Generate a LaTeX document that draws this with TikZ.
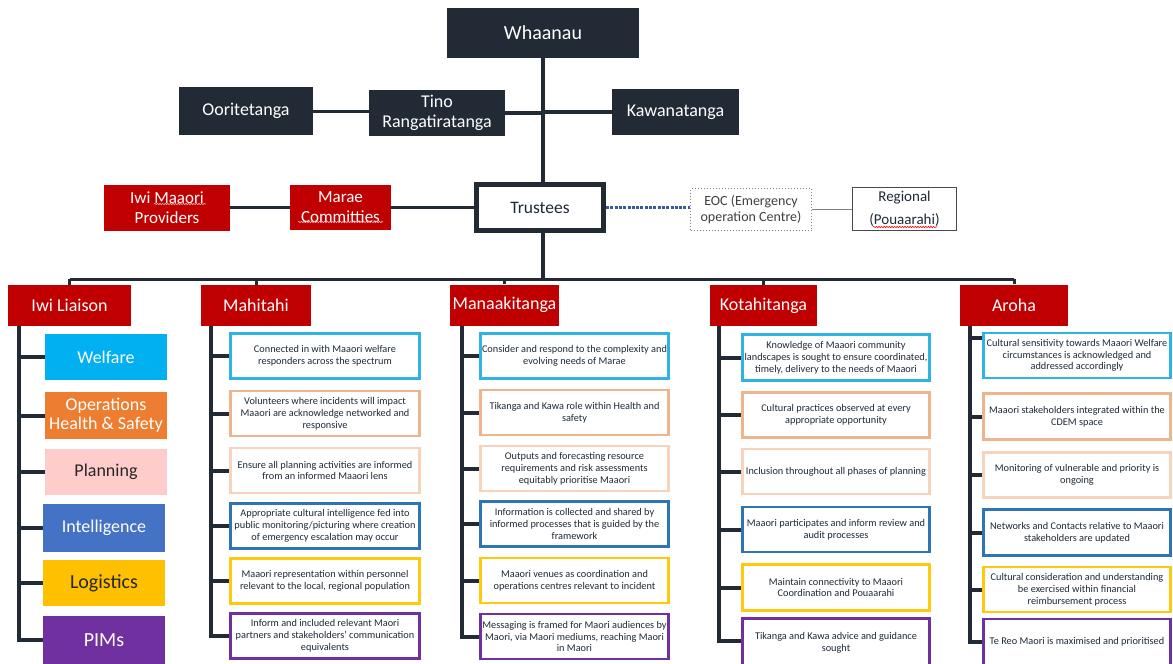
\documentclass[tikz,border=0pt]{standalone}
\usepackage{fontspec}
\setmainfont{Carlito}
\usetikzlibrary{decorations.pathmorphing,calc}
\definecolor{navy}{HTML}{222A35}
\definecolor{redc}{HTML}{C00000}
\definecolor{txt}{HTML}{1E2A38}
\definecolor{cb}{HTML}{2EB4E4}
\definecolor{co}{HTML}{F0B48C}
\definecolor{cp}{HTML}{F7D3BB}
\definecolor{cbl}{HTML}{2E75B6}
\definecolor{cy}{HTML}{FFC90E}
\definecolor{cpu}{HTML}{7030A0}
\definecolor{fwel}{HTML}{00B0F0}
\definecolor{fops}{HTML}{ED7D31}
\definecolor{fpla}{HTML}{FFCCCC}
\definecolor{fint}{HTML}{4472C4}
\definecolor{flog}{HTML}{FFC000}
\definecolor{fpim}{HTML}{7030A0}
\definecolor{dotc}{HTML}{3A5A9A}
\definecolor{regb}{HTML}{4A4A4A}
\pgfdeclarelayer{background}
\pgfsetlayers{background,main}
\tikzset{
  dk/.style={fill=navy, draw=none, text=white, inner sep=0pt, align=center},
  rd/.style={fill=redc, draw=none, text=white, inner sep=0pt, align=center},
  conn/.style={draw=navy, line width=4pt},
  bconn/.style={draw=navy, line width=3pt},
  tbox/.style={draw=#1, line width=2.8pt, fill=white, text=txt, minimum height=45pt,
    inner sep=0pt, align=center, font=\fontsize{10.3}{11.8}\selectfont},
  lbox/.style={fill=#1, draw=none, minimum width=122pt, minimum height=46pt, inner sep=0pt,
    align=center, font=\fontsize{18}{19}\selectfont},
  hdr/.style={rd, minimum height=41pt, font=\fontsize{18}{20}\selectfont},
  squig/.style={decorate, decoration={snake, amplitude=0.7pt, segment length=2.6pt}, line width=0.6pt},
}
\begin{document}
\begin{tikzpicture}[x=1pt,y=-1pt]
\useasboundingbox (0,0) rectangle (1173,664);
% top level
\node[dk, minimum width=192pt, minimum height=50pt, font=\fontsize{20}{22}\selectfont] (wh) at (543,33) {Whaanau};
\node[dk, minimum width=134pt, minimum height=48pt, font=\fontsize{18}{20}\selectfont] (oor) at (246,111) {Ooritetanga};
\node[dk, minimum width=136pt, minimum height=46pt, font=\fontsize{18}{20}\selectfont] (tino) at (437,113) {Tino\\Rangatiratanga};
\node[dk, minimum width=127pt, minimum height=46pt, font=\fontsize{18}{20}\selectfont] (kaw) at (675.5,112) {Kawanatanga};
\node[draw=navy, line width=5pt, fill=white, text=txt, minimum width=127pt, minimum height=46pt, inner sep=0pt, font=\fontsize{17.5}{20}\selectfont] (tru) at (540,207.5) {Trustees};
\node[rd, minimum width=101pt, minimum height=45pt, font=\fontsize{17}{20}\selectfont] (mar) at (340.5,207.5) {Marae\\Committies};
\node[rd, minimum width=126pt, minimum height=46pt, font=\fontsize{17}{20}\selectfont] (iwi) at (167,208) {Iwi Maaori\\Providers};
\node[draw=gray, dotted, line width=1pt, fill=white, text=black!75, minimum width=121pt, minimum height=42pt, inner sep=0pt, align=center, font=\fontsize{14}{15.7}\selectfont] (eoc) at (751,209.5) {EOC (Emergency\\operation Centre)};
\node[draw=regb, line width=1.3pt, fill=white, text=txt, minimum width=104pt, minimum height=43pt, inner sep=0pt, align=center, font=\fontsize{15}{23}\selectfont] (reg) at (904.5,209) {Regional\\(Pouaarahi)};
% headers
\node[hdr, minimum width=123pt] (h1) at (69.5,305.5) {Iwi Liaison};
\node[hdr, minimum width=110pt] (h2) at (256,305.5) {Mahitahi};
\node[hdr, minimum width=109pt] (h3) at (504.5,305) {Manaakitanga};
\node[hdr, minimum width=107pt] (h4) at (763.5,305.5) {Kotahitanga};
\node[hdr, minimum width=108pt] (h5) at (1014,305) {Aroha};
% Iwi Liaison column
\node[lbox=fwel, text=white] (l1) at (106,357) {Welfare};
\node[lbox=fops, text=white, minimum height=47pt] (l2) at (106,415.5) {Operations\\Health \& Safety};
\node[lbox=fpla, text=black!85] (l3) at (106,472) {Planning};
\node[lbox=fint, text=white, minimum height=48pt] (l4) at (104,528) {Intelligence};
\node[lbox=flog, text=black!85, font=\fontsize{20}{22}\selectfont] (l5) at (104,583) {Logistics};
\node[lbox=fpim, text=white, minimum height=48pt, font=\fontsize{20}{22}\selectfont] (l6) at (104,640) {PIMs};
% Mahitahi column
\node[tbox=cb, minimum width=189pt] (m1) at (325,356) {Connected in with Maaori welfare\\responders across the spectrum};
\node[tbox=co, minimum width=189pt] (m2) at (325,413.5) {Volunteers where incidents will impact\\Maaori are acknowledge networked and\\responsive};
\node[tbox=cp, minimum width=189pt] (m3) at (325,470.5) {Ensure all planning activities are informed\\from an informed Maaori lens};
\node[tbox=cbl, minimum width=189pt] (m4) at (325,526) {Appropriate cultural intelligence fed into\\public monitoring/picturing where creation\\of emergency escalation may occur};
\node[tbox=cy, minimum width=189pt] (m5) at (325,581) {Maaori representation within personnel\\relevant to the local, regional population};
\node[tbox=cpu, minimum width=189pt] (m6) at (325,636) {Inform and included relevant Maori\\partners and stakeholders' communication\\equivalents};
% Manaakitanga column
\node[tbox=cb, minimum width=188pt] (n1) at (574.5,356) {Consider and respond to the complexity and\\evolving needs of Marae};
\node[tbox=co, minimum width=188pt] (n2) at (574.5,412.5) {Tikanga and Kawa role within Health and\\safety};
\node[tbox=cp, minimum width=188pt] (n3) at (574.5,468.5) {Outputs and forecasting resource\\requirements and risk assessments\\equitably prioritise Maaori};
\node[tbox=cbl, minimum width=188pt] (n4) at (574.5,524) {Information is collected and shared by\\informed processes that is guided by the\\framework};
\node[tbox=cy, minimum width=188pt] (n5) at (574.5,580.5) {Maaori venues as coordination and\\operations centres relevant to incident};
\node[tbox=cpu, minimum width=188pt] (n6) at (574.5,636.5) {Messaging is framed for Maori audiences by\\Maori, via Maori mediums, reaching Maori\\in Maori};
% Kotahitanga column
\node[tbox=cb, minimum width=187pt, minimum height=46pt] (k1) at (836,357.5) {Knowledge of Maaori community\\landscapes is sought to ensure coordinated,\\timely, delivery to the needs of Maaori};
\node[tbox=co, minimum width=187pt] (k2) at (836,415) {Cultural practices observed at every\\appropriate opportunity};
\node[tbox=cp, minimum width=187pt] (k3) at (836,471.5) {Inclusion throughout all phases of planning};
\node[tbox=cbl, minimum width=187pt] (k4) at (836,529.5) {Maaori participates and inform review and\\audit processes};
\node[tbox=cy, minimum width=187pt, minimum height=46pt] (k5) at (836,587.5) {Maintain connectivity to Maaori\\Coordination and Pouaarahi};
\node[tbox=cpu, minimum width=187pt, minimum height=48pt] (k6) at (836,642.5) {Tikanga and Kawa advice and guidance\\sought};
% Aroha column
\node[tbox=cb, minimum width=187pt] (a1) at (1077,355.5) {Cultural sensitivity towards Maaori Welfare\\circumstances is acknowledged and\\addressed accordingly};
\node[tbox=co, minimum width=187pt, minimum height=46pt] (a2) at (1077,416.5) {Maaori stakeholders integrated within the\\CDEM space};
\node[tbox=cp, minimum width=187pt] (a3) at (1077,475) {Monitoring of vulnerable and priority is\\ongoing};
\node[tbox=cbl, minimum width=187pt, minimum height=46pt] (a4) at (1077,532.5) {Networks and Contacts relative to Maaori\\stakeholders are updated};
\node[tbox=cy, minimum width=187pt] (a5) at (1077,589.5) {Cultural consideration and understanding\\be exercised within financial\\reimbursement process};
\node[tbox=cpu, minimum width=187pt, minimum height=46pt] (a6) at (1077,642) {Te Reo Maori is maximised and prioritised};
% spell-check squiggles
\draw[squig, draw=white!70!redc] (154,204) -- (206,204);
\draw[squig, draw=white!70!redc] (298,222) -- (383,222);
\draw[squig, draw=red] (873,227) -- (937,227);
% connectors
\begin{pgfonlayer}{background}
\fill[white] (0,0) rectangle (1173,664);
\coordinate (bus) at (543,279);
\draw[conn] (wh.south) -- (wh.south |- tru.north);
\draw[bconn] (oor.east) -- (oor.east -| tino.west);
\draw[conn] (tino.east) -- (tino.east -| wh.south);
\draw[conn] (kaw.west) -- (kaw.west -| wh.south);
\draw[bconn] (tru.west) -- (tru.west -| mar.east);
\draw[bconn] (mar.west) -- (mar.west -| iwi.east);
\draw[dotc, line width=3pt, dash pattern=on 3pt off 1.3pt] (tru.east) -- (tru.east -| eoc.west);
\draw[gray, line width=1pt] (eoc.east) -- (eoc.east -| reg.west);
\draw[conn] (wh.south |- tru.south) -- (bus);
\draw[bconn] (h1.north |- bus) -- (h5.north |- bus);
\foreach \i in {1,...,5} {\draw[bconn] (h\i.north) -- (h\i.north |- bus);}
% column spines
\coordinate (c1) at (19,326);
\coordinate (c2) at (211,326);
\coordinate (c3) at (462,326);
\coordinate (c4) at (719,326);
\coordinate (c5) at (970,326);
\draw[conn] (c1) |- (l6.west);
\draw[conn] (c2) |- (m6.west);
\draw[conn] (c3) |- (n6.west);
\draw[conn] (c4) |- ($(k6.west)+(0,-2)$);
\draw[conn] (c5) |- (a6.west);
\foreach \i in {1,...,5} {
  \draw[conn] (l\i.west) -- (l\i.west -| c1);
  \draw[conn] (m\i.west) -- (m\i.west -| c2);
  \draw[conn] (n\i.west) -- (n\i.west -| c3);
  \draw[conn] (k\i.west) -- (k\i.west -| c4);
}
\coordinate (s51) at (970,338);
\draw[conn] (s51) -- (s51 -| a1.west);
\foreach \i in {2,...,5} {\draw[conn] (a\i.west) -- (a\i.west -| c5);}
\end{pgfonlayer}
\end{tikzpicture}
\end{document}
